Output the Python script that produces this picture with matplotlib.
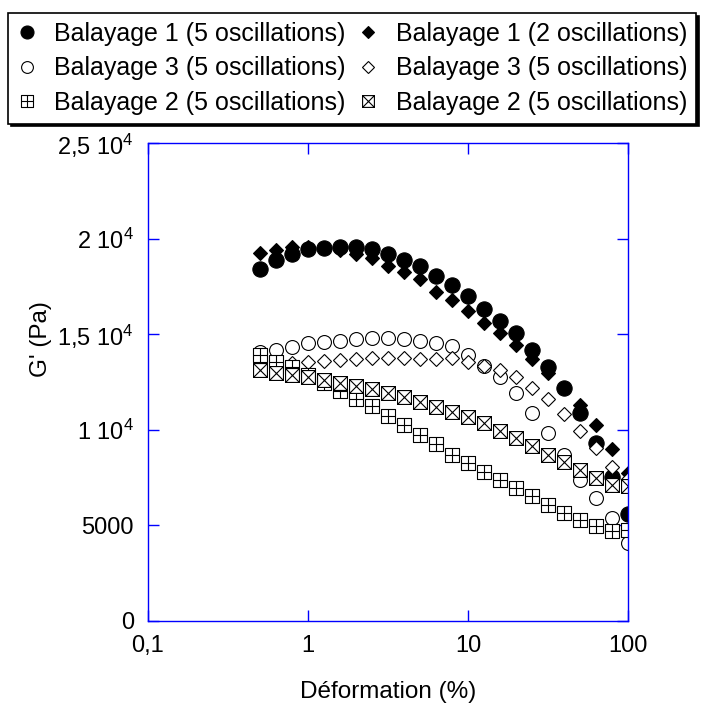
import matplotlib
matplotlib.use("Agg")
import matplotlib.pyplot as plt
from matplotlib.path import Path
from matplotlib.ticker import FixedLocator, FixedFormatter

plt.rcParams['font.family'] = ['Liberation Sans', 'DejaVu Sans']
plt.rcParams['mathtext.fontset'] = 'custom'
plt.rcParams['mathtext.rm'] = 'Liberation Sans'
plt.rcParams['mathtext.it'] = 'Liberation Sans'

# deformation (%)
deform = [0.5, 0.63, 0.79, 1.0, 1.26, 1.58, 2.0, 2.51, 3.16, 3.98, 5.01, 6.31,
          7.94, 10.0, 12.6, 15.8, 20.0, 25.1, 31.6, 39.8, 50.1, 63.1, 79.4, 100.0]

# G' (Pa)
b1_5osc = [18410, 18880, 19190, 19460, 19510, 19560, 19560, 19460, 19190, 18880, 18570, 18040,
           17570, 17000, 16320, 15690, 15060, 14170, 13280, 12190, 10880, 9310, 7530, 5600]
b1_2osc = [19240, 19400, 19560, 19560, 19500, 19400, 19190, 18990, 18570, 18250, 17890, 17210,
           16790, 16210, 15590, 15060, 14430, 13700, 12970, 12200, 11300, 10250, 9000, 7740]
b3_5osc_a = [14070, 14170, 14330, 14540, 14590, 14640, 14750, 14800, 14800, 14750, 14640, 14540,
             14380, 13910, 13340, 12760, 11920, 10880, 9830, 8680, 7370, 6430, 5390, 4080]
b3_5osc_b = [13200, 13350, 13490, 13550, 13600, 13650, 13700, 13750, 13750, 13750, 13700, 13700,
             13750, 13550, 13340, 13130, 12760, 12190, 11610, 10830, 9940, 9050, 8050, 7400]
b2_5osc_a = [13910, 13550, 13280, 12870, 12450, 12030, 11610, 11250, 10720, 10250, 9730, 9260,
             8680, 8260, 7790, 7370, 6960, 6540, 6070, 5650, 5280, 4970, 4700, 4750]
b2_5osc_b = [13130, 12970, 12870, 12760, 12600, 12450, 12290, 12140, 11920, 11720, 11460, 11200,
             10930, 10670, 10360, 9940, 9570, 9150, 8680, 8320, 7900, 7480, 7110, 7060]

labels = ['Balayage 1 (5 oscillations)', 'Balayage 1 (2 oscillations)',
          'Balayage 3 (5 oscillations)', 'Balayage 3 (5 oscillations)',
          'Balayage 2 (5 oscillations)', 'Balayage 2 (5 oscillations)']

xticks = [0.1, 1, 10, 100]
xticklabels = ['0,1', '1', '10', '100']
yticks = [0, 5000, 10000, 15000, 20000, 25000]
yticklabels = ['0', '5000', r'1 10$^4$', r'1,5 10$^4$', r'2 10$^4$', r'2,5 10$^4$']

# square markers with a plus / a cross inside
M, L, C = Path.MOVETO, Path.LINETO, Path.CLOSEPOLY
plus_sq = Path([(-1, -1), (1, -1), (1, 1), (-1, 1), (-1, -1), (0, -1), (0, 1), (-1, 0), (1, 0)],
               [M, L, L, L, C, M, L, M, L])
cross_sq = Path([(-1, -1), (1, -1), (1, 1), (-1, 1), (-1, -1), (-1, -1), (1, 1), (-1, 1), (1, -1)],
                [M, L, L, L, C, M, L, M, L])

fig = plt.figure(figsize=(7.09, 7.08), dpi=100)
ax = fig.add_axes([0.2087, 0.1229, 0.6770, 0.6752])

h1, = ax.plot(deform, b1_5osc, 'o', ms=11, mfc='black', mec='black', mew=0.8, ls='none')
h2, = ax.plot(deform, b1_2osc, 'D', ms=7.5, mfc='black', mec='black', mew=0.8, ls='none')
h3, = ax.plot(deform, b3_5osc_a, 'o', ms=10, mfc='white', mec='black', mew=0.8, ls='none')
h4, = ax.plot(deform, b3_5osc_b, 'D', ms=7.5, mfc='white', mec='black', mew=0.8, ls='none')
h5, = ax.plot(deform, b2_5osc_a, marker=plus_sq, ms=10, mfc='white', mec='black', mew=0.8, ls='none')
h6, = ax.plot(deform, b2_5osc_b, marker=cross_sq, ms=10, mfc='white', mec='black', mew=0.8, ls='none')

ax.set_xscale('log')
ax.set_xlim(0.1, 100)
ax.set_ylim(0, 25000)
ax.xaxis.set_major_locator(FixedLocator(xticks))
ax.xaxis.set_major_formatter(FixedFormatter(xticklabels))
ax.xaxis.set_minor_locator(FixedLocator([]))
ax.yaxis.set_major_locator(FixedLocator(yticks))
ax.yaxis.set_major_formatter(FixedFormatter(yticklabels))

for s in ax.spines.values():
    s.set_color('blue')
    s.set_linewidth(1.0)
ax.tick_params(which='major', direction='in', length=8, width=1, color='blue',
               top=True, right=True, labelsize=17, labelcolor='black', pad=10)

ax.set_xlabel('Déformation (%)', fontsize=17.5)
ax.set_ylabel("G' (Pa)", fontsize=17.5)
ax.xaxis.set_label_coords(0.5, -0.125)
ax.yaxis.set_label_coords(-0.2, 0.59)

handles = [h1, h3, h5, h2, h4, h6]
leg_labels = [labels[0], labels[2], labels[4], labels[1], labels[3], labels[5]]
leg = fig.legend(handles, leg_labels, ncol=2, loc='upper left',
                 bbox_to_anchor=(0.0113, 0.9816),
                 fancybox=False, shadow={'color': 'black', 'alpha': 1},
                 edgecolor='black', framealpha=1, markerscale=0.85,
                 prop={'size': 18},
                 handlelength=0.8, handletextpad=0.7, labelspacing=0.42,
                 borderpad=0.35, borderaxespad=0, columnspacing=0.5)
leg.get_frame().set_linewidth(1.2)

fig.savefig('out.png', dpi=100)
